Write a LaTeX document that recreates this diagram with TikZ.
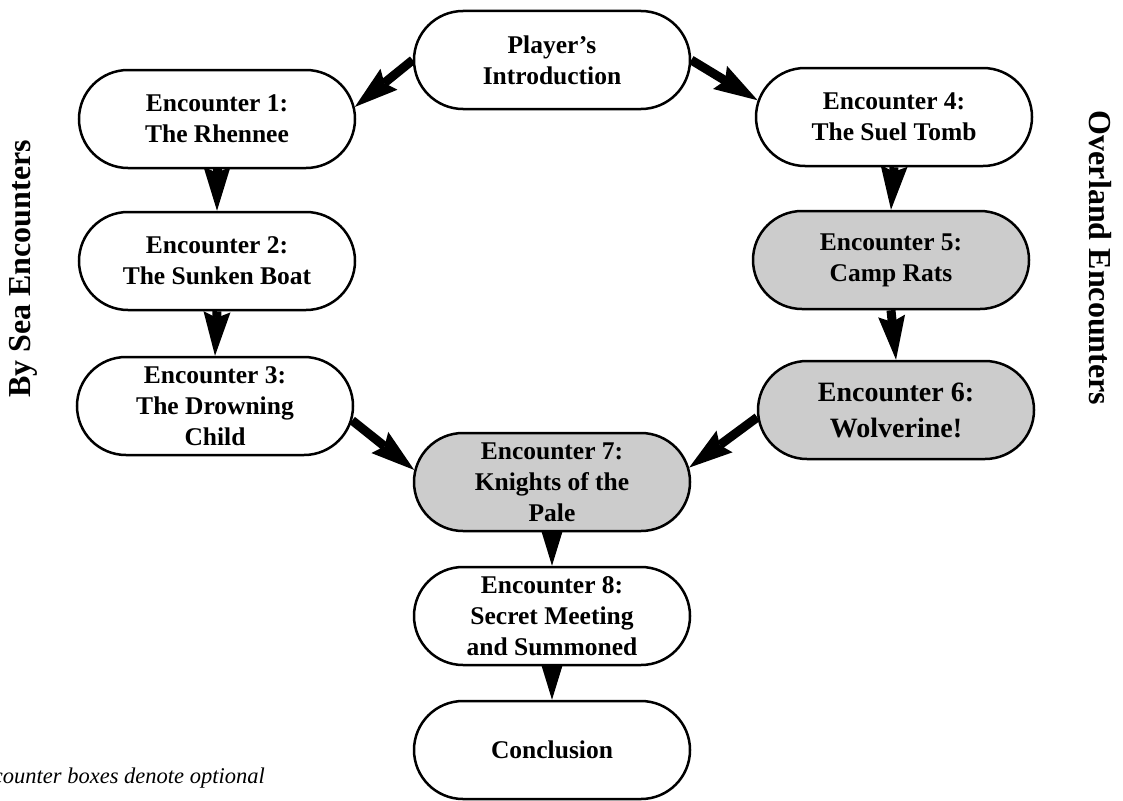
\documentclass[tikz,border=0pt]{standalone}
\usepackage{fontspec}
\setmainfont{Liberation Serif}
\usetikzlibrary{shapes.misc,arrows.meta,backgrounds}
\definecolor{optgray}{HTML}{CCCCCC}
\begin{document}
\begin{tikzpicture}[x=1pt,y=-1pt,
  enc/.style={rounded rectangle, draw=black, line width=2.5pt, fill=white,
    minimum width=280pt, minimum height=98pt, inner sep=2pt, align=center,
    font=\fontsize{25.5}{31}\selectfont\bfseries},
  opt/.style={enc, fill=optgray},
  flow/.style={line width=9pt, -{Stealth[length=44pt,width=27pt,inset=6pt,line width=0pt]}},
  side/.style={font=\fontsize{32}{36}\selectfont\bfseries},
  note/.style={font=\fontsize{22.5}{26}\selectfont\itshape, inner sep=0pt}]
\useasboundingbox (0,0) rectangle (1123,800);

\node[enc] (P)  at (552,60)  {Player's\\Introduction};
\node[enc] (E1) at (217,119) {Encounter 1:\\The Rhennee};
\node[enc] (E2) at (217,261) {Encounter 2:\\The Sunken Boat};
\node[enc] (E3) at (215,406) {Encounter 3:\\The Drowning\\Child};
\node[enc] (E4) at (894,117) {Encounter 4:\\The Suel Tomb};
\node[opt] (E5) at (891,260) {Encounter 5:\\Camp Rats};
\node[opt, font=\fontsize{28}{36}\selectfont\bfseries] (E6) at (896,410) {Encounter 6:\\Wolverine!};
\node[opt] (E7) at (552,482) {Encounter 7:\\Knights of the\\Pale};
\node[enc] (E8) at (552,616) {Encounter 8:\\Secret Meeting\\and Summoned};
\node[enc] (C)  at (552,750) {Conclusion};

\node[side, rotate=90] (LS) at (23,269) {By Sea Encounters};
\node[side, rotate=-90] (RS) at (1100,258) {Overland Encounters};
\node[note, anchor=base east] (N) at (265,783) {counter boxes denote optional};

\begin{scope}[on background layer]
  \draw[flow] (P.west) -- (E1.5);
  \draw[flow] (P.east) -- (E4.173);
  \draw[flow] (E1.south) -- (E2.north);
  \draw[flow] (E2.south) -- (E3.north);
  \draw[flow] (E4.south) -- (E5.north);
  \draw[flow] (E5.south) -- (E6.north);
  \draw[flow] (E3.-6) -- (E7.175);
  \draw[flow] (E6.183) -- (E7.6);
  \draw[flow] (E7.south) -- (E8.north);
  \draw[flow] (E8.south) -- (C.north);
\end{scope}
\end{tikzpicture}
\end{document}
